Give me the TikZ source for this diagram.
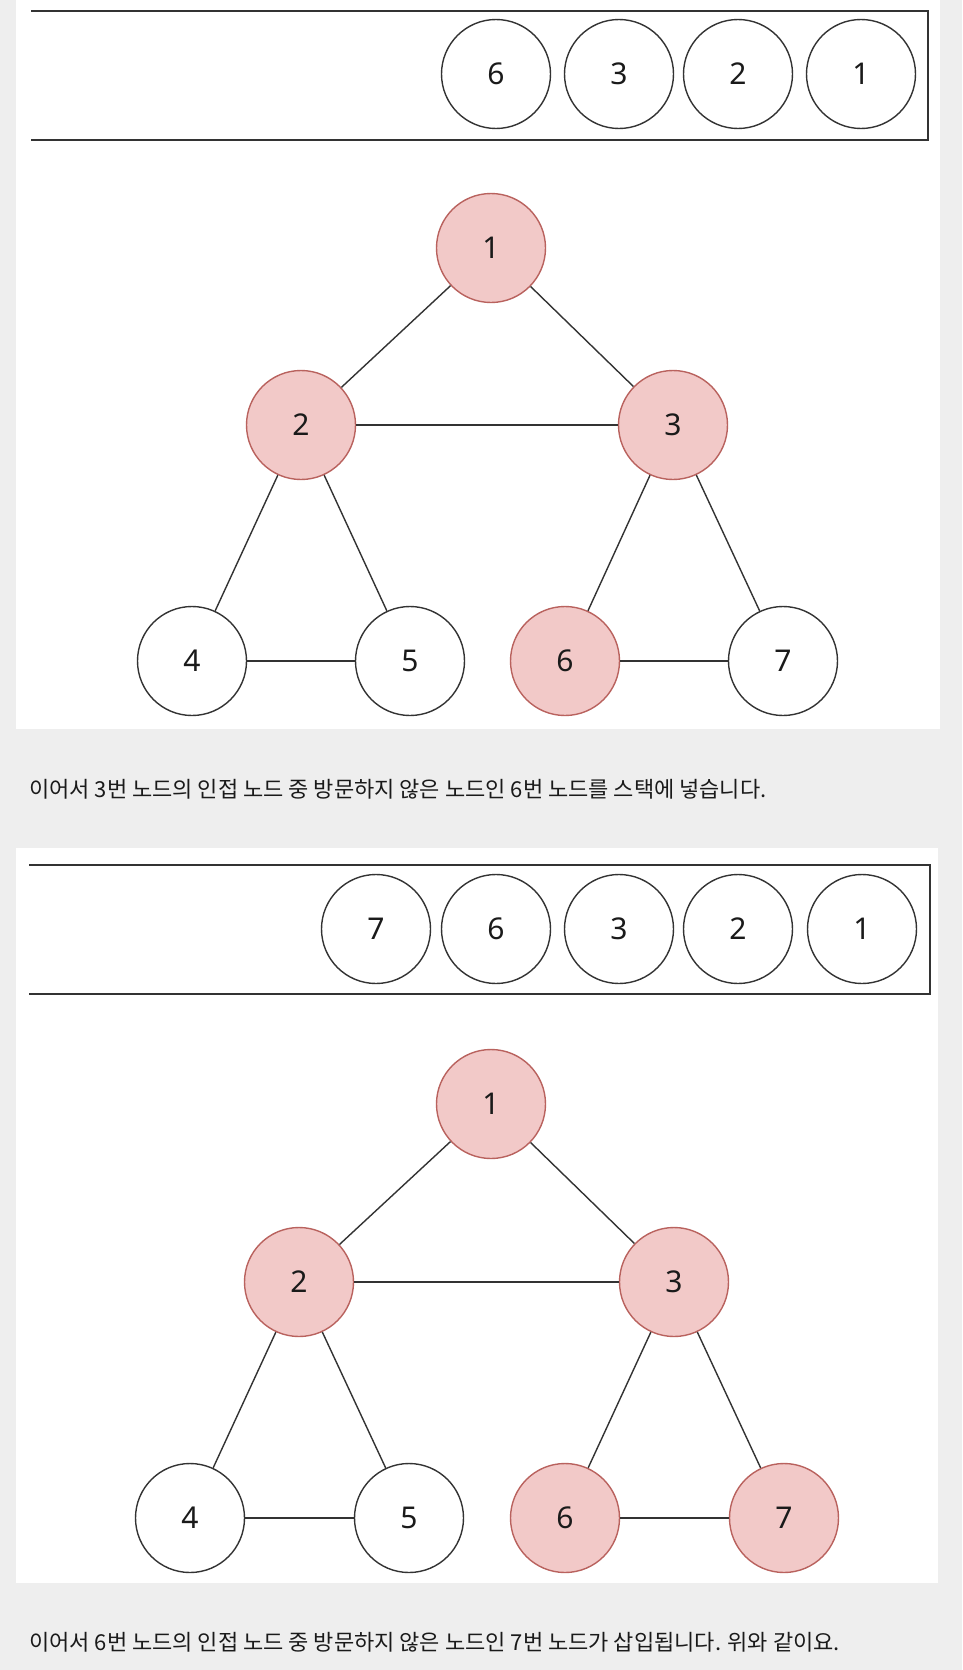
\documentclass[tikz,border=0pt]{standalone}
\usepackage{fontspec}
\setmainfont{Noto Sans}
\newfontfamily\krfont{Noto Sans CJK KR}
\definecolor{bgc}{HTML}{EEEEEE}
\definecolor{linec}{HTML}{333333}
\definecolor{pinkfill}{HTML}{F2C9C8}
\definecolor{pinkdraw}{HTML}{B9625E}
\definecolor{txtc}{HTML}{1A1A1A}
\tikzset{
  gnode/.style={circle, draw=linec, line width=1.4pt, minimum size=109pt, inner sep=0pt, fill=white, text=txtc, font=\fontsize{30}{31}\selectfont},
  visited/.style={gnode, fill=pinkfill, draw=pinkdraw},
  edge/.style={draw=linec, line width=1.4pt},
  stackline/.style={draw=linec, line width=2pt},
  caption/.style={anchor=west, inner sep=0pt, text=txtc, font=\krfont\fontsize{22}{24}\selectfont}
}
\begin{document}
\begin{tikzpicture}[x=1pt,y=-1pt]
\fill[bgc] (0,0) rectangle (962,1670);
\useasboundingbox (0,0) rectangle (962,1670);
% panel 1
\fill[white] (16,0) rectangle (940,729);
\draw[stackline] (31,11) -- (928,11) -- (928,140) -- (31,140);
\node[gnode] (s16) at (496,74) {6};
\node[gnode] (s13) at (619,74) {3};
\node[gnode] (s12) at (738,74) {2};
\node[gnode] (s11) at (861,74) {1};
\node[visited] (a1) at (491,248) {1};
\node[visited] (a2) at (301,425) {2};
\node[visited] (a3) at (673,425) {3};
\node[gnode] (a4) at (192,661) {4};
\node[gnode] (a5) at (410,661) {5};
\node[visited] (a6) at (565,661) {6};
\node[gnode] (a7) at (783,661) {7};
\draw[edge] (a1) -- (a2);
\draw[edge] (a1) -- (a3);
\draw[edge] (a2) -- (a3);
\draw[edge] (a2) -- (a4);
\draw[edge] (a2) -- (a5);
\draw[edge] (a3) -- (a6);
\draw[edge] (a3) -- (a7);
\draw[edge] (a4) -- (a5);
\draw[edge] (a6) -- (a7);
\node[caption] (t1) at (29,789) {이어서 3번 노드의 인접 노드 중 방문하지 않은 노드인 6번 노드를 스택에 넣습니다.};
% panel 2
\fill[white] (16,848) rectangle (938,1583);
\draw[stackline] (29,865) -- (930,865) -- (930,994) -- (29,994);
\node[gnode] (s27) at (376,929) {7};
\node[gnode] (s26) at (496,929) {6};
\node[gnode] (s23) at (619,929) {3};
\node[gnode] (s22) at (738,929) {2};
\node[gnode] (s21) at (862,929) {1};
\node[visited] (b1) at (491,1104) {1};
\node[visited] (b2) at (299,1282) {2};
\node[visited] (b3) at (674,1282) {3};
\node[gnode] (b4) at (190,1518) {4};
\node[gnode] (b5) at (409,1518) {5};
\node[visited] (b6) at (565,1518) {6};
\node[visited] (b7) at (784,1518) {7};
\draw[edge] (b1) -- (b2);
\draw[edge] (b1) -- (b3);
\draw[edge] (b2) -- (b3);
\draw[edge] (b2) -- (b4);
\draw[edge] (b2) -- (b5);
\draw[edge] (b3) -- (b6);
\draw[edge] (b3) -- (b7);
\draw[edge] (b4) -- (b5);
\draw[edge] (b6) -- (b7);
\node[caption] (t2) at (29,1642) {이어서 6번 노드의 인접 노드 중 방문하지 않은 노드인 7번 노드가 삽입됩니다. 위와 같이요.};
\end{tikzpicture}
\end{document}
